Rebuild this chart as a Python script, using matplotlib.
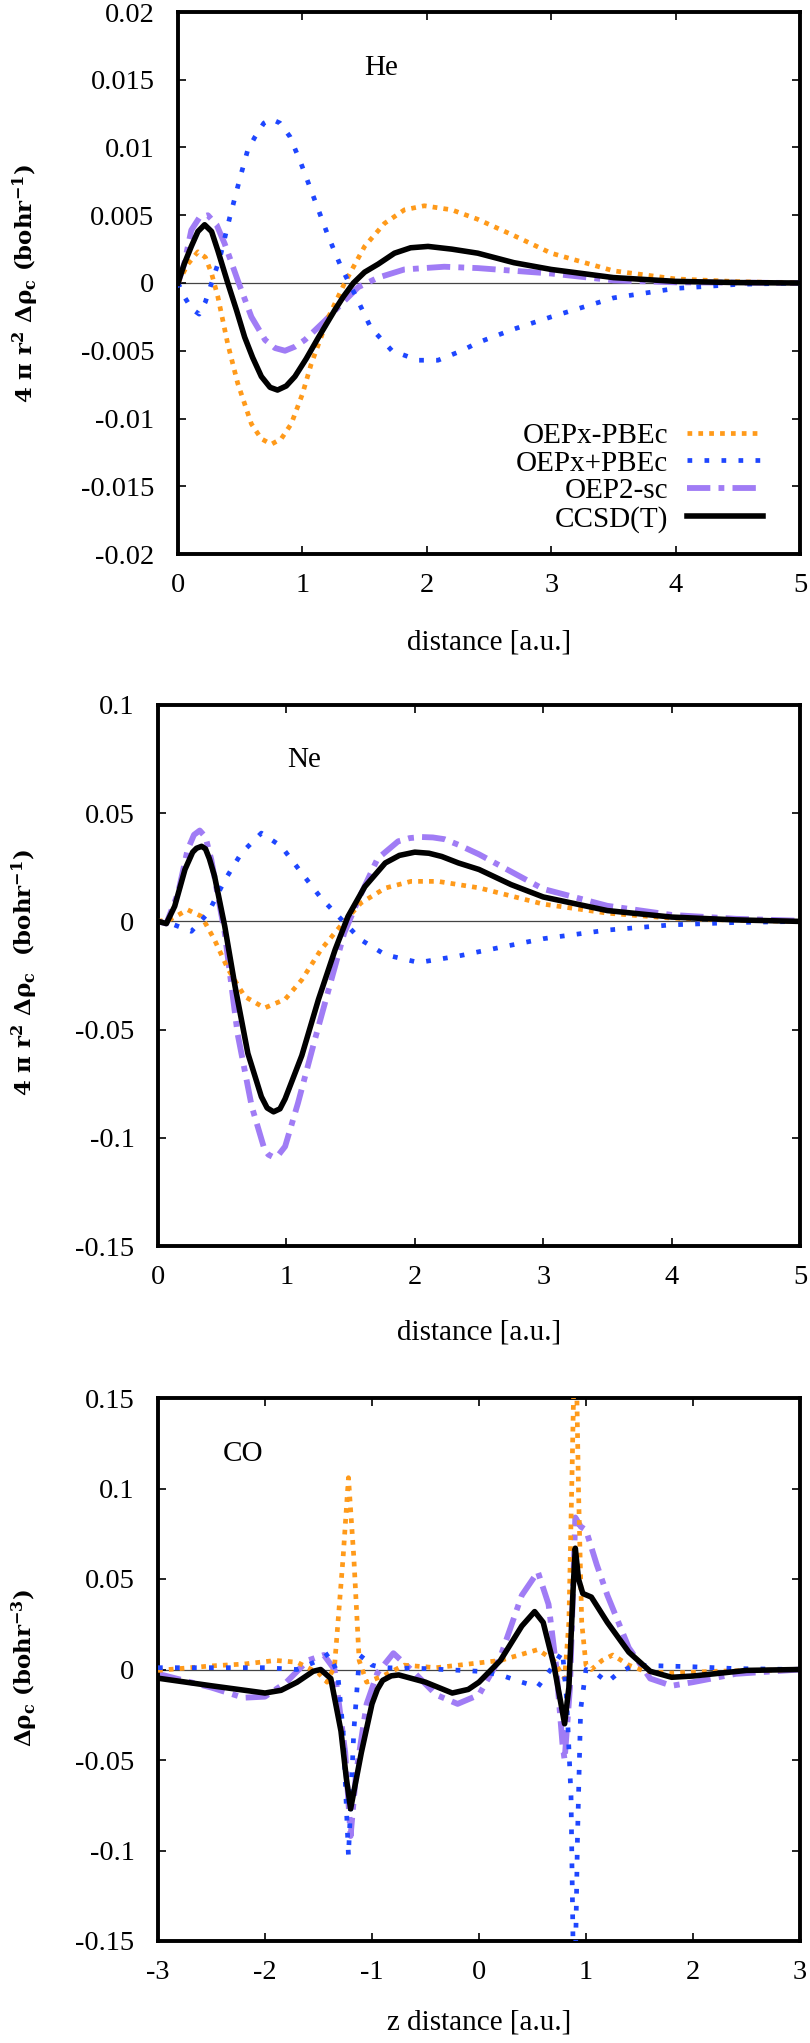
import numpy as np
import matplotlib
matplotlib.use('Agg')
import matplotlib.pyplot as plt

plt.rcParams['font.family'] = ['Liberation Serif', 'DejaVu Serif']
plt.rcParams['mathtext.fontset'] = 'custom'
plt.rcParams['mathtext.rm'] = 'DejaVu Serif:bold'
plt.rcParams['mathtext.it'] = 'DejaVu Serif:bold'
plt.rcParams['mathtext.bf'] = 'DejaVu Serif:bold'

# ---- He: 4 pi r^2 delta rho_c ----
he_ccsd_x = [0, 0.05, 0.107, 0.16, 0.214, 0.27, 0.32, 0.40, 0.47, 0.536, 0.60, 0.67, 0.74, 0.80,
             0.87, 0.94, 1.03, 1.13, 1.26, 1.33, 1.41, 1.50, 1.61, 1.74, 1.87, 2.01, 2.2, 2.41,
             2.7, 3.0, 3.5, 4.0, 4.5, 5.0]
he_ccsd_y = [0, 0.0014, 0.0027, 0.0038, 0.0043, 0.0038, 0.0024, 0.0, -0.002, -0.004, -0.0055,
             -0.0069, -0.0077, -0.0079, -0.0076, -0.0069, -0.0056, -0.004, -0.002, -0.001, 0.0,
             0.0008, 0.0014, 0.0022, 0.0026, 0.0027, 0.0025, 0.0022, 0.0015, 0.001, 0.0004,
             0.00012, 0.00003, 0.0]
he_mpbe_x = [0, 0.08, 0.16, 0.22, 0.27, 0.32, 0.40, 0.48, 0.59, 0.67, 0.75, 0.83, 0.91, 1.0,
             1.07, 1.21, 1.34, 1.50, 1.66, 1.82, 1.98, 2.2, 2.41, 2.7, 3.0, 3.5, 4.0, 4.5, 5.0]
he_mpbe_y = [0, 0.0014, 0.0023, 0.0019, 0.0007, -0.001, -0.0045, -0.0074, -0.0104, -0.0115,
             -0.0119, -0.0115, -0.0104, -0.0082, -0.006, -0.0025, 0.0, 0.0027, 0.0044, 0.0054,
             0.0057, 0.0054, 0.0047, 0.0035, 0.0022, 0.0009, 0.0003, 0.0001, 0.0]
he_ppbe_x = [0, 0.05, 0.11, 0.17, 0.22, 0.27, 0.335, 0.415, 0.5, 0.56, 0.62, 0.69, 0.75, 0.82,
             0.9, 0.99, 1.1, 1.21, 1.31, 1.42, 1.55, 1.72, 1.93, 2.09, 2.28, 2.41, 2.7, 3.0,
             3.5, 4.0, 4.5, 5.0]
he_ppbe_y = [0, -0.001, -0.0019, -0.0023, -0.0014, 0.0, 0.0018, 0.0048, 0.0078, 0.0098, 0.0108,
             0.0118, 0.0121, 0.0118, 0.0108, 0.0088, 0.0061, 0.0034, 0.0012, -0.0008, -0.0033,
             -0.005, -0.0057, -0.0057, -0.005, -0.0044, -0.0034, -0.0025, -0.0011, -0.0004,
             -0.0001, 0.0]
he_oep2_x = [0, 0.05, 0.107, 0.17, 0.24, 0.31, 0.375, 0.43, 0.48, 0.59, 0.70, 0.78, 0.86, 0.94,
             1.02, 1.18, 1.34, 1.45, 1.61, 1.82, 2.14, 2.41, 2.7, 3.0, 3.5, 4.0, 5.0]
he_oep2_y = [0, 0.0014, 0.0039, 0.0048, 0.005, 0.0043, 0.0029, 0.0015, 0.0002, -0.0025, -0.0042,
             -0.0048, -0.005, -0.0047, -0.0042, -0.0028, -0.0013, -0.0003, 0.0004, 0.001, 0.0012,
             0.0011, 0.0009, 0.0007, 0.0002, 0.00005, 0.0]

# ---- Ne ----
ne_ccsd_x = [0, 0.065, 0.13, 0.21, 0.27, 0.30, 0.34, 0.37, 0.40, 0.44, 0.52, 0.60, 0.70, 0.805,
             0.85, 0.90, 0.95, 0.99, 1.12, 1.25, 1.38, 1.48, 1.61, 1.77, 1.88, 2.0, 2.11, 2.21,
             2.34, 2.5, 2.75, 3.0, 3.5, 4.0, 4.5, 5.0]
ne_ccsd_y = [0, -0.001, 0.007, 0.024, 0.032, 0.0338, 0.0347, 0.0335, 0.029, 0.021, -0.0023,
             -0.030, -0.061, -0.081, -0.0862, -0.088, -0.0866, -0.082, -0.062, -0.036, -0.013,
             0.0023, 0.016, 0.027, 0.0305, 0.032, 0.0315, 0.030, 0.027, 0.024, 0.017, 0.0113,
             0.005, 0.002, 0.0007, 0.0]
ne_oep2_x = [0, 0.065, 0.156, 0.23, 0.28, 0.325, 0.37, 0.415, 0.52, 0.62, 0.73, 0.83, 0.86, 0.90,
             0.94, 0.99, 1.09, 1.22, 1.35, 1.45, 1.56, 1.71, 1.87, 1.96, 2.05, 2.14, 2.23, 2.34,
             2.5, 2.75, 3.0, 3.5, 4.0, 4.5, 5.0]
ne_oep2_y = [0, -0.001, 0.013, 0.033, 0.040, 0.042, 0.039, 0.0285, -0.0054, -0.052, -0.0855,
             -0.1055, -0.1078, -0.109, -0.1078, -0.104, -0.084, -0.055, -0.027, -0.0054, 0.010,
             0.029, 0.037, 0.0385, 0.039, 0.0388, 0.038, 0.0354, 0.031, 0.023, 0.015, 0.0072,
             0.003, 0.0012, 0.0003]
ne_mpbe_x = [0, 0.10, 0.23, 0.34, 0.44, 0.545, 0.675, 0.83, 0.99, 1.12, 1.27, 1.43, 1.58, 1.77,
             1.97, 2.18, 2.34, 2.5, 3.0, 3.5, 4.0, 4.5, 5.0]
ne_mpbe_y = [0, 0.001, 0.0054, 0.0023, -0.0085, -0.022, -0.0347, -0.040, -0.036, -0.027, -0.013,
             -0.0015, 0.0085, 0.0154, 0.0185, 0.0185, 0.017, 0.0155, 0.008, 0.0038, 0.0015,
             0.0005, 0.0]
ne_ppbe_x = [0, 0.10, 0.26, 0.39, 0.52, 0.65, 0.805, 0.96, 1.12, 1.27, 1.43, 1.58, 1.77, 2.03,
             2.34, 2.5, 3.0, 3.5, 4.0, 4.5, 5.0]
ne_ppbe_y = [0, -0.001, -0.0046, 0.0039, 0.019, 0.0316, 0.0408, 0.0347, 0.0223, 0.0108, 0.0008,
             -0.0085, -0.0154, -0.019, -0.016, -0.014, -0.008, -0.004, -0.0016, -0.0005, 0.0]

# ---- CO: delta rho_c along the bond ----
co_ccsd_x = [-3.0, -2.5, -2.0, -1.85, -1.7, -1.55, -1.48, -1.385, -1.29, -1.24, -1.2, -1.1, -1.0,
             -0.95, -0.9, -0.82, -0.75, -0.5, -0.25, -0.1, 0.0, 0.2, 0.4, 0.52, 0.6, 0.7, 0.76,
             0.8, 0.84, 0.88, 0.9, 0.93, 0.97, 1.05, 1.2, 1.4, 1.6, 1.8, 2.0, 2.5, 3.0]
co_ccsd_y = [-0.0048, -0.009, -0.013, -0.0115, -0.007, -0.001, 0.0, -0.005, -0.034, -0.060,
             -0.077, -0.046, -0.019, -0.011, -0.006, -0.0035, -0.003, -0.007, -0.013, -0.011,
             -0.007, 0.005, 0.024, 0.032, 0.026, 0.0024, -0.017, -0.030, -0.010, 0.045, 0.067,
             0.05, 0.042, 0.040, 0.026, 0.0096, -0.001, -0.0043, -0.0036, -0.0005, 0.0]
co_oep2_x = [-3.0, -2.5, -2.2, -2.0, -1.8, -1.6, -1.45, -1.35, -1.25, -1.2, -1.15, -1.05, -0.95,
             -0.8, -0.6, -0.4, -0.2, 0.0, 0.2, 0.4, 0.55, 0.65, 0.72, 0.78, 0.8, 0.85, 0.9, 0.95,
             1.0, 1.1, 1.2, 1.4, 1.6, 1.8, 2.0, 2.4, 3.0]
co_oep2_y = [-0.0024, -0.010, -0.0156, -0.015, -0.007, 0.005, 0.008, 0.0, -0.046, -0.092, -0.058,
             -0.019, -0.002, 0.009, -0.002, -0.014, -0.019, -0.014, 0.007, 0.041, 0.054, 0.036,
             0.0024, -0.041, -0.05, -0.01, 0.084, 0.079, 0.077, 0.058, 0.041, 0.012, -0.005,
             -0.009, -0.007, -0.0024, 0.0]
co_mpbe_x = [-3.0, -2.5, -2.2, -1.9, -1.7, -1.5, -1.42, -1.35, -1.27, -1.22, -1.17, -1.12, -1.05,
             -0.9, -0.7, -0.4, -0.1, 0.2, 0.4, 0.55, 0.7, 0.77, 0.8, 0.84, 0.87, 0.9, 0.93, 0.96,
             1.0, 1.05, 1.15, 1.25, 1.4, 1.55, 1.8, 2.2, 3.0]
co_mpbe_y = [-0.0005, 0.002, 0.003, 0.005, 0.004, -0.002, -0.007, 0.002, 0.062, 0.106, 0.062,
             0.005, -0.007, -0.0036, 0.0024, 0.001, 0.003, 0.005, 0.0084, 0.011, 0.005, -0.0024,
             -0.005, 0.026, 0.11, 0.2, 0.099, 0.026, 0.0024, 0.0, 0.005, 0.008, 0.0024, -0.001,
             -0.002, -0.001, 0.0]
co_ppbe_x = [-3.0, -2.0, -1.7, -1.5, -1.4, -1.32, -1.27, -1.22, -1.17, -1.12, -1.08, -1.0, -0.9,
             -0.5, 0.0, 0.2, 0.4, 0.55, 0.7, 0.78, 0.82, 0.86, 0.89, 0.92, 0.95, 1.0, 1.1, 1.2,
             1.3, 1.45, 1.7, 2.0, 2.4, 3.0]
co_ppbe_y = [0.001, 0.001, 0.0, 0.005, 0.009, -0.0024, -0.034, -0.103, -0.034, 0.005, 0.008,
             0.0024, 0.001, 0.0005, -0.001, -0.003, -0.007, -0.0096, 0.0024, 0.01, -0.017, -0.07,
             -0.2, -0.094, -0.022, 0.0, -0.0024, -0.007, -0.002, 0.0024, 0.002, 0.0015, 0.0005,
             0.0]

labels = ['OEPx-PBEc', 'OEPx+PBEc', 'OEP2-sc', 'CCSD(T)']
colors = ['#FF9A1A', '#1E46FF', '#A07CF5', 'black']

he_yticks = [0.02, 0.015, 0.01, 0.005, 0, -0.005, -0.01, -0.015, -0.02]
he_yticklabels = ['0.02', '0.015', '0.01', '0.005', '0', '-0.005', '-0.01', '-0.015', '-0.02']
ne_yticks = [0.1, 0.05, 0, -0.05, -0.1, -0.15]
ne_yticklabels = ['0.1', '0.05', '0', '-0.05', '-0.1', '-0.15']
co_yticks = [0.15, 0.1, 0.05, 0, -0.05, -0.1, -0.15]
co_yticklabels = ['0.15', '0.1', '0.05', '0', '-0.05', '-0.1', '-0.15']
r_ticks = [0, 1, 2, 3, 4, 5]
z_ticks = [-3, -2, -1, 0, 1, 2, 3]

W, H = 810, 2043
fig = plt.figure(figsize=(W / 100, H / 100), dpi=100)


def px_axes(left, top, right, bottom):
    return fig.add_axes([left / W, 1 - bottom / H, (right - left) / W, (bottom - top) / H])


ax1 = px_axes(178, 12, 800, 554)
ax2 = px_axes(158, 705, 800, 1246)
ax3 = px_axes(158, 1398, 800, 1941)


def draw(ax, series):
    ax.axhline(0, color='#444444', lw=0.9, zorder=1)
    (mx, my), (px, py), (ox, oy), (cx, cy) = series
    ax.plot(mx, my, color=colors[0], lw=3.4, dashes=(1.0, 1.3), dash_capstyle='butt',
            label=labels[0], zorder=3)
    ax.plot(px, py, color=colors[1], lw=3.4, dashes=(1.0, 2.6), dash_capstyle='butt',
            label=labels[1], zorder=3)
    ax.plot(ox, oy, color=colors[2], lw=4.2, dashes=(4.0, 1.4, 1.0, 1.4), dash_capstyle='butt',
            label=labels[2], zorder=2)
    ax.plot(cx, cy, color=colors[3], lw=4.0, label=labels[3], zorder=4)
    for s in ax.spines.values():
        s.set_linewidth(2.8)
    ax.tick_params(direction='in', length=6, width=1.2, top=True, right=True,
                   labelsize=20.5, pad=17)
    ax.tick_params(axis='x', pad=14)


draw(ax1, [(he_mpbe_x, he_mpbe_y), (he_ppbe_x, he_ppbe_y), (he_oep2_x, he_oep2_y), (he_ccsd_x, he_ccsd_y)])
draw(ax2, [(ne_mpbe_x, ne_mpbe_y), (ne_ppbe_x, ne_ppbe_y), (ne_oep2_x, ne_oep2_y), (ne_ccsd_x, ne_ccsd_y)])
draw(ax3, [(co_mpbe_x, co_mpbe_y), (co_ppbe_x, co_ppbe_y), (co_oep2_x, co_oep2_y), (co_ccsd_x, co_ccsd_y)])

ax1.set_xlim(0, 5)
ax1.set_ylim(-0.02, 0.02)
ax1.set_yticks(he_yticks)
ax1.set_yticklabels(he_yticklabels)
ax1.set_xticks(r_ticks)
ax1.set_xticklabels([str(t) for t in r_ticks])

ax2.set_xlim(0, 5)
ax2.set_ylim(-0.15, 0.1)
ax2.set_yticks(ne_yticks)
ax2.set_yticklabels(ne_yticklabels)
ax2.set_xticks(r_ticks)
ax2.set_xticklabels([str(t) for t in r_ticks])

ax3.set_xlim(-3, 3)
ax3.set_ylim(-0.15, 0.15)
ax3.set_yticks(co_yticks)
ax3.set_yticklabels(co_yticklabels)
ax3.set_xticks(z_ticks)
ax3.set_xticklabels([str(t) for t in z_ticks])

ax1.legend(loc='center right', bbox_to_anchor=(0.9405, 0.141), frameon=False, markerfirst=False,
           fontsize=21, handlelength=2.6, handletextpad=0.65, labelspacing=0.05, borderpad=0,
           borderaxespad=0)

# panel names
fig.text(381 / W, 1 - 68 / H, 'He', fontsize=21, ha='center', va='center')
fig.text(304 / W, 1 - 760 / H, 'Ne', fontsize=21, ha='center', va='center')
fig.text(243 / W, 1 - 1454 / H, 'CO', fontsize=21, ha='center', va='center')

# axis titles
fig.text(489 / W, 1 - 642 / H, 'distance [a.u.]', fontsize=21, ha='center', va='center')
fig.text(479 / W, 1 - 1333 / H, 'distance [a.u.]', fontsize=21, ha='center', va='center')
fig.text(479 / W, 1 - 2023 / H, 'z distance [a.u.]', fontsize=21, ha='center', va='center')

ylab_kw = dict(fontsize=16.5, ha='center', va='center', rotation=90, family='DejaVu Serif',
               weight='bold')
fig.text(26 / W, 1 - 284 / H, '4 π r$^2$ Δρ$_c$ (bohr$^{-1}$)', **ylab_kw)
fig.text(25 / W, 1 - 973 / H, '4 π r$^2$ Δρ$_c$  (bohr$^{-1}$)', **ylab_kw)
fig.text(25 / W, 1 - 1668 / H, 'Δρ$_c$ (bohr$^{-3}$)', **ylab_kw)

fig.savefig('out.png', dpi=100)
